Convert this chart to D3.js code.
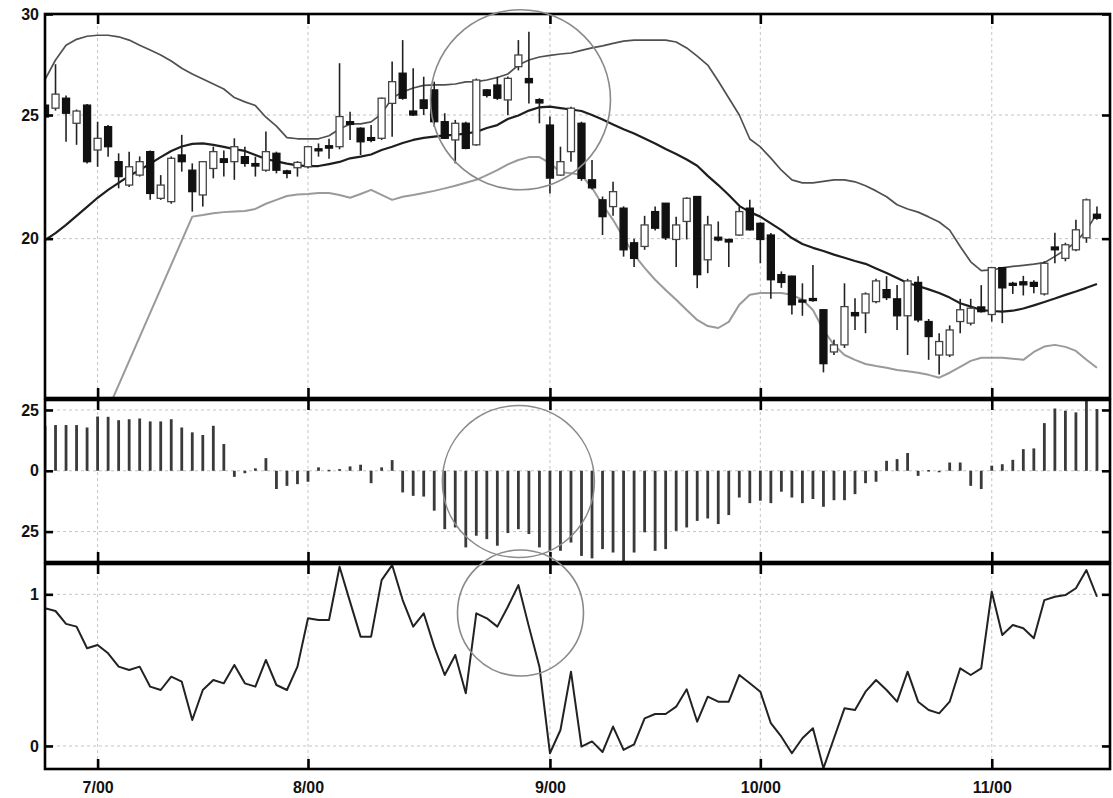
<!DOCTYPE html>
<html><head><meta charset="utf-8">
<script src="https://cdn.jsdelivr.net/npm/d3@7"></script>
<style>
body{margin:0;background:#fff;}
svg{display:block;font-family:"Liberation Sans",Arial,Helvetica,sans-serif;}
</style>
</head><body>
<svg id="chart" width="1113" height="798"></svg>
<script>
// ---------- DATA (trading-day index 0 = 26 Jun 2000) ----------
const openP  = [25.45,25.31,25.77,24.63,25.45,23.47,24.48,22.98,22.03,22.43,
                23.40,21.51,21.38,23.26,22.63,21.64,22.70,23.10,22.98,23.19,
                22.90,22.63,23.33,22.60,22.73,22.77,23.52,23.65,23.61,24.70,
                24.41,24.00,23.97,25.53,26.96,25.18,25.69,26.16,24.70,23.90,
                24.63,23.69,26.16,26.39,25.69,27.28,26.70,25.70,24.55,22.43,
                23.40,24.63,22.24,21.45,21.19,21.13,19.85,19.72,21.00,21.32,
                19.97,20.63,21.58,19.25,20.05,19.97,20.13,21.13,20.56,20.13,
                18.74,18.69,17.90,17.95,17.59,16.30,16.51,17.50,17.49,17.85,
                18.24,17.94,17.40,18.48,17.22,16.21,16.21,17.22,17.17,17.68,
                17.44,18.98,18.45,18.50,18.48,18.10,19.70,19.30,19.60,20.03,20.90];
const highP  = [25.50,27.40,25.90,25.25,25.50,24.70,24.55,23.33,23.40,23.20,
                23.45,22.43,23.20,24.12,22.91,23.00,23.61,23.45,23.97,23.61,
                23.19,24.27,23.40,22.65,23.00,23.65,23.75,23.95,27.45,25.15,
                24.45,24.55,25.80,27.53,28.62,27.20,26.79,26.55,25.08,24.78,
                24.70,26.70,26.20,26.79,26.80,28.62,29.05,25.77,24.93,23.61,
                25.37,24.70,23.05,21.58,22.16,21.20,20.00,20.84,21.19,21.33,
                20.81,21.55,21.60,20.84,20.63,20.00,21.19,21.45,20.60,20.20,
                18.85,18.70,18.45,19.07,17.60,16.66,18.45,17.96,18.15,18.60,
                18.69,18.39,18.60,18.69,17.30,16.86,17.10,17.94,17.94,18.39,
                19.00,19.00,18.50,18.70,18.55,19.20,20.21,19.85,20.69,21.50,21.19];
const lowP   = [24.85,25.20,23.82,23.69,22.90,22.77,23.19,21.90,21.95,22.37,
                21.45,21.45,21.30,22.57,21.00,21.19,22.30,22.37,22.24,22.77,
                22.37,22.57,22.50,22.30,22.37,22.70,23.19,23.10,23.50,23.90,
                23.26,23.80,23.90,24.04,25.70,24.95,25.00,24.48,23.95,22.91,
                23.50,23.65,25.80,25.69,25.00,27.10,25.53,24.63,21.70,22.40,
                22.98,22.20,21.85,20.13,20.84,19.36,19.00,19.60,20.30,19.95,
                19.00,19.97,18.29,18.79,19.90,19.00,20.10,20.30,19.13,17.94,
                18.30,17.44,17.40,17.85,15.71,16.21,16.42,16.96,16.86,17.80,
                17.90,16.96,16.21,17.20,16.07,15.65,16.15,16.86,17.10,17.50,
                17.22,17.17,18.10,18.05,18.12,18.05,19.13,19.20,19.55,19.85,20.69];
const closeP = [24.91,25.96,25.08,25.18,22.98,23.97,23.61,22.37,22.77,22.98,
                21.70,22.03,23.12,22.98,21.77,22.98,23.40,22.95,23.61,22.91,
                22.80,23.40,22.63,22.50,22.95,23.61,23.45,23.55,24.93,24.58,
                23.82,23.88,25.77,26.55,25.77,25.00,25.30,24.70,23.97,24.63,
                23.54,26.63,25.90,25.77,26.71,27.86,26.50,25.55,22.31,22.98,
                25.31,22.30,21.92,20.81,21.77,19.60,19.30,20.50,20.38,20.03,
                20.50,21.51,18.74,20.50,19.95,19.88,21.00,20.32,19.97,18.57,
                18.48,17.75,17.85,17.90,15.96,16.51,17.69,17.40,18.10,18.53,
                17.98,17.40,18.53,17.27,16.76,16.61,16.96,17.59,17.64,17.53,
                18.98,18.30,18.39,18.40,18.35,19.13,19.60,19.78,20.32,21.45,20.75];

const upperBand = [26.65,27.61,28.35,28.66,28.82,28.87,28.87,28.79,28.62,28.35,
                   28.11,27.86,27.56,27.20,26.92,26.68,26.44,26.20,25.80,25.60,
                   25.43,24.90,24.50,24.00,23.95,23.95,23.95,24.08,24.38,24.60,
                   24.60,24.69,25.05,25.78,26.06,26.25,26.37,26.40,26.40,26.44,
                   26.54,26.55,26.63,26.75,26.92,27.36,27.61,27.76,27.84,27.91,
                   27.96,28.09,28.22,28.32,28.45,28.57,28.62,28.62,28.62,28.62,
                   28.52,28.22,27.80,27.36,26.58,25.78,25.00,23.94,23.60,23.13,
                   22.63,22.24,22.12,22.12,22.18,22.24,22.24,22.16,22.00,21.80,
                   21.57,21.26,21.10,20.98,20.80,20.61,20.31,19.72,19.18,18.88,
                   18.90,18.97,19.02,19.06,19.10,19.15,19.37,19.60,19.88,20.31,20.93];
const middleBand = [19.95,20.20,20.50,20.84,21.18,21.53,21.84,22.12,22.40,22.63,
                    22.90,23.17,23.43,23.62,23.73,23.75,23.69,23.60,23.51,23.43,
                    23.26,23.09,22.99,22.90,22.83,22.80,22.80,22.88,22.97,23.12,
                    23.19,23.28,23.47,23.61,23.77,23.90,23.99,24.04,24.10,24.12,
                    24.18,24.25,24.42,24.55,24.82,24.98,25.20,25.35,25.38,25.31,
                    25.25,25.18,25.00,24.80,24.58,24.37,24.18,23.96,23.75,23.51,
                    23.30,23.07,22.81,22.40,22.03,21.64,21.22,20.98,20.81,20.56,
                    20.31,20.02,19.81,19.67,19.56,19.43,19.32,19.21,19.11,18.95,
                    18.80,18.63,18.46,18.36,18.25,18.13,17.98,17.80,17.69,17.58,
                    17.55,17.53,17.56,17.63,17.73,17.84,17.95,18.07,18.18,18.30,18.43];
const lowerBand = [11.33,null,null,null,null,null,null,null,null,null,
                   null,null,null,null,20.81,20.87,20.94,20.98,21.00,21.02,
                   21.10,21.30,21.45,21.60,21.66,21.68,21.72,21.72,21.64,21.53,
                   21.68,21.84,21.64,21.45,21.57,21.64,21.72,21.80,21.90,22.00,
                   22.12,22.24,22.43,22.63,22.87,23.05,23.17,23.17,22.92,22.55,
                   22.51,22.43,21.92,21.26,20.69,20.03,19.43,18.97,18.57,18.23,
                   17.91,17.58,17.27,17.08,17.02,17.21,17.75,18.07,18.13,18.13,
                   18.13,18.07,17.91,17.58,16.96,16.51,16.21,16.07,15.95,15.89,
                   15.84,15.78,15.74,15.70,15.64,15.56,15.70,15.87,16.04,16.13,
                   16.13,16.13,16.10,16.07,16.30,16.46,16.51,16.45,16.33,16.07,15.84];

const momentum = [18.5,18.8,18.8,18.8,17.8,22.3,22.2,20.8,21.2,21.5,
                  20.3,20.3,21.2,17.8,15.8,14.7,18.5,11.0,-2.5,-1.0,
                  1.0,5.2,-7.5,-6.2,-5.5,-4.5,1.4,0.4,0.7,1.8,
                  2.5,-5.1,1.4,4.4,-8.9,-10.3,-10.6,-16.4,-24.0,-23.3,
                  -31.5,-26.7,-28.1,-30.8,-25.6,-24.0,-26.0,-31.5,-33.0,-32.9,
                  -29.5,-35.0,-36.0,-32.2,-33.6,-37.7,-33.6,-25.3,-32.9,-32.2,
                  -24.7,-23.3,-20.6,-19.6,-21.9,-18.2,-11.0,-13.3,-12.3,-13.3,
                  -8.6,-11.0,-13.3,-11.6,-14.8,-12.1,-12.1,-9.6,-5.1,-4.5,
                  4.1,4.8,7.3,-2.1,0.3,-0.4,3.4,3.4,-6.2,-7.5,
                  2.1,2.7,4.5,8.9,9.2,19.6,25.6,24.7,24.0,28.8,25.4];

const percentB = [0.908,0.890,0.805,0.787,0.644,0.666,0.611,0.523,0.501,0.523,
                  0.391,0.369,0.457,0.424,0.171,0.369,0.435,0.413,0.534,0.413,
                  0.391,0.567,0.402,0.369,0.523,0.842,0.831,0.831,1.182,0.950,
                  0.721,0.721,1.094,1.193,0.962,0.787,0.875,0.655,0.468,0.600,
                  0.347,0.875,0.842,0.787,0.918,1.061,0.787,0.523,-0.048,0.105,
                  0.490,-0.004,0.030,-0.040,0.128,-0.026,0.010,0.182,0.211,0.211,
                  0.259,0.374,0.160,0.325,0.292,0.292,0.468,0.413,0.358,0.150,
                  0.061,-0.048,0.051,0.117,-0.147,0.051,0.248,0.237,0.358,0.435,
                  0.369,0.292,0.490,0.292,0.237,0.215,0.292,0.512,0.468,0.512,
                  1.017,0.732,0.798,0.776,0.710,0.962,0.984,0.995,1.040,1.160,0.984];

const monthTickIdx   = [5, 25, 48, 68, 90];
const monthLabels    = ["7/00", "8/00", "9/00", "10/00", "11/00"];
const priceTicks     = [30, 25, 20];
const priceLabels    = ["30", "25", "20"];
const momTicks       = [25, 0, -25];
const momLabels      = ["25", "0", "25"];
const pctTicks       = [1, 0];
const pctLabels      = ["1", "0"];
// annotation circles: centre (day index, value in its panel)
const circleIdx      = [45.2, 45.0, 45.2];
const circleVal      = [25.7, -4.4, 0.877];

// ---------- LAYOUT ----------
const L = 45, R = 1110;
const P1 = {top: 14, bottom: 398};
const P2 = {top: 400, bottom: 562};
const P3 = {top: 564, bottom: 769};

const svg = d3.select("#chart");
const x  = d3.scaleLinear().domain([0, 101.24]).range([L, R]);
const y1 = d3.scaleLog().domain([15, 30]).range([P1.bottom, P1.top]);
const y2 = d3.scaleLinear().domain([-37.5, 29.1]).range([P2.bottom, P2.top]);
const y3 = d3.scaleLinear().domain([-0.152, 1.2]).range([P3.bottom, P3.top]);
const idx = d3.range(openP.length);

const defs = svg.append("defs");
[P1, P2, P3].forEach((p, k) => {
  defs.append("clipPath").attr("id", "clip" + k)
    .append("rect").attr("x", L).attr("y", p.top).attr("width", R - L).attr("height", p.bottom - p.top);
});

const gridColor = "#c4c4c4";
function grid(p, yScale, ticks, k) {
  const g = svg.append("g").attr("clip-path", `url(#clip${k})`);
  g.selectAll(".hg").data(ticks).join("line")
    .attr("x1", L).attr("x2", R)
    .attr("y1", d => yScale(d)).attr("y2", d => yScale(d))
    .attr("stroke", gridColor).attr("stroke-width", 1).attr("stroke-dasharray", "3,3");
  g.selectAll(".vg").data(monthTickIdx).join("line")
    .attr("x1", d => x(d)).attr("x2", d => x(d))
    .attr("y1", p.top).attr("y2", p.bottom)
    .attr("stroke", gridColor).attr("stroke-width", 1).attr("stroke-dasharray", "3,3");
}
grid(P1, y1, priceTicks, 0);
grid(P2, y2, momTicks, 1);
grid(P3, y3, pctTicks, 2);

// ---------- PANEL 1: candles + bands ----------
const g1 = svg.append("g").attr("clip-path", "url(#clip0)");
function bandLine(arr, color, w) {
  const pts = idx.filter(i => arr[i] != null);
  g1.append("path").datum(pts)
    .attr("fill", "none").attr("stroke", color).attr("stroke-width", w)
    .attr("stroke-linejoin", "round")
    .attr("d", d3.line().x(i => x(i)).y(i => y1(arr[i])));
}
bandLine(lowerBand, "#9a9a9a", 2);
bandLine(upperBand, "#505050", 1.7);
bandLine(middleBand, "#1e1e1e", 2.2);

g1.selectAll(".wick").data(idx).join("line")
  .attr("x1", i => x(i)).attr("x2", i => x(i))
  .attr("y1", i => y1(highP[i])).attr("y2", i => y1(lowP[i]))
  .attr("stroke", "#222").attr("stroke-width", 1.6);
const bw = 7;
g1.selectAll(".body").data(idx).join("rect")
  .attr("x", i => x(i) - bw / 2).attr("width", bw)
  .attr("y", i => y1(Math.max(openP[i], closeP[i])))
  .attr("height", i => Math.max(2, Math.abs(y1(openP[i]) - y1(closeP[i]))))
  .attr("fill", i => closeP[i] >= openP[i] ? "#fff" : "#111")
  .attr("stroke", i => closeP[i] >= openP[i] ? "#444" : "#111")
  .attr("stroke-width", 1.3);

// ---------- PANEL 2: histogram ----------
const g2 = svg.append("g").attr("clip-path", "url(#clip1)");
g2.selectAll(".bar").data(idx).join("rect")
  .attr("x", i => x(i) - 1.4).attr("width", 2.8)
  .attr("y", i => Math.min(y2(0), y2(momentum[i])))
  .attr("height", i => Math.max(1.5, Math.abs(y2(momentum[i]) - y2(0))))
  .attr("fill", "#3a3a3a");

// ---------- PANEL 3: line ----------
const g3 = svg.append("g").attr("clip-path", "url(#clip2)");
g3.append("path").datum(idx)
  .attr("fill", "none").attr("stroke", "#222").attr("stroke-width", 2)
  .attr("stroke-linejoin", "round")
  .attr("d", d3.line().x(i => x(i)).y(i => y3(percentB[i])));

// ---------- frames, axes ----------
function frame(p, yScale, ticks, labels, showX) {
  svg.append("rect").attr("x", L).attr("y", p.top).attr("width", R - L).attr("height", p.bottom - p.top)
    .attr("fill", "none").attr("stroke", "#000").attr("stroke-width", 2.6);
  const la = svg.append("g").attr("transform", `translate(${L},0)`)
    .call(d3.axisLeft(yScale).tickValues(ticks).tickFormat((d, i) => labels[i]).tickSizeInner(-8).tickSizeOuter(0).tickPadding(6));
  const ra = svg.append("g").attr("transform", `translate(${R},0)`)
    .call(d3.axisRight(yScale).tickValues(ticks).tickFormat("").tickSizeInner(-8).tickSizeOuter(0));
  const ta = svg.append("g").attr("transform", `translate(0,${p.top})`)
    .call(d3.axisTop(x).tickValues(monthTickIdx).tickFormat("").tickSizeInner(-10).tickSizeOuter(0));
  const ba = svg.append("g").attr("transform", `translate(0,${p.bottom})`)
    .call(d3.axisBottom(x).tickValues(monthTickIdx).tickFormat((d, i) => showX ? monthLabels[i] : "")
      .tickSizeInner(-10).tickSizeOuter(0).tickPadding(13));
  [la, ra, ta, ba].forEach(a => {
    a.select(".domain").remove();
    a.selectAll(".tick line").attr("stroke", "#000").attr("stroke-width", 2.6);
    a.selectAll("text").attr("fill", "#111").attr("font-size", 16).attr("font-weight", "bold")
      .attr("font-family", '"Liberation Sans", Arial, sans-serif');
  });
}
frame(P1, y1, priceTicks, priceLabels, false);
frame(P2, y2, momTicks, momLabels, false);
frame(P3, y3, pctTicks, pctLabels, true);

// ---------- annotation circles ----------
const circles = [
  {cx: x(circleIdx[0]), cy: y1(circleVal[0]), r: 90},
  {cx: x(circleIdx[1]), cy: y2(circleVal[1]), r: 76},
  {cx: x(circleIdx[2]), cy: y3(circleVal[2]), r: 63}
];
svg.selectAll(".ann").data(circles).join("circle")
  .attr("cx", d => d.cx).attr("cy", d => d.cy).attr("r", d => d.r)
  .attr("fill", "none").attr("stroke", "#8a8a8a").attr("stroke-width", 1.6);
</script>
</body></html>
